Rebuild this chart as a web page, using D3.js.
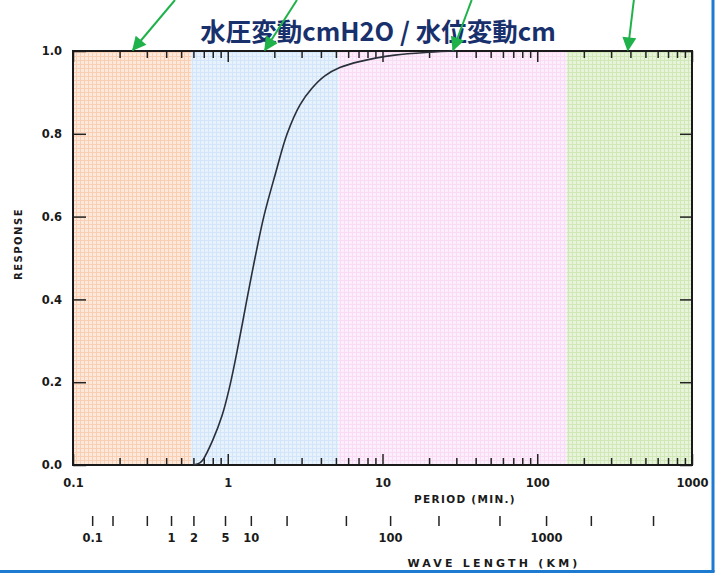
<!DOCTYPE html>
<html>
<head>
<meta charset="utf-8">
<script src="https://cdn.jsdelivr.net/npm/d3@7"></script>
<style>
  body { margin: 0; background: #fff; }
  text { font-family: "DejaVu Sans", sans-serif; font-weight: bold; fill: #1a1a1a; }
</style>
</head>
<body>
<svg id="chart" width="720" height="573"></svg>
<script>
// response curve (period in minutes)
const periods   = [0.6, 0.66, 0.69, 0.8, 0.92, 1.03, 1.17, 1.33, 1.50, 1.71, 2.02, 2.42, 2.93, 3.5, 4.24, 5.3, 7.2, 12, 20, 30];
const responses = [0, 0.005, 0.012, 0.06, 0.12, 0.19, 0.29, 0.40, 0.50, 0.60, 0.70, 0.80, 0.87, 0.91, 0.94, 0.96, 0.975, 0.99, 0.997, 1.0];

// shaded period bands
const bandStart = [0.1, 0.58, 5.2, 155];
const bandEnd   = [0.58, 5.2, 155, 1000];
const bandNames = ["orange", "blue", "pink", "green"];

// period axis
const periodMajor = [0.1, 1, 10, 100, 1000];
const periodLabels = ["0.1", "1", "10", "100", "1000"];
const yTicks = [0, 0.2, 0.4, 0.6, 0.8, 1.0];

// wave length axis: km label and the period it sits at
const waveKm     = ["0.1", "", "", "1", "2", "5", "10", "", "", "100", "", "", "1000", "", ""];
const wavePeriod = [0.133, 0.18, 0.30, 0.43, 0.60, 0.96, 1.41, 2.4, 5.8, 11.2, 23, 57, 114, 222, 560];

// green annotation arrows (tip period, tail period)
const arrowTip  = [0.244, 1.74, 28.6, 385];
const arrowTail = [0.456, 2.8, 37.7, 421];

const title = "水圧変動cmH2O / 水位変動cm";

const svg = d3.select("#chart");
const plotL = 73, plotR = 692, plotT = 51, plotB = 465;

const x = d3.scaleLog().domain([0.1, 1000]).range([plotL, plotR]);
const y = d3.scaleLinear().domain([0, 1]).range([plotB, plotT]);

// patterns for the dotted fills
const patColors = {
  orange: ["#fde9dc", "#f9ceb2"],
  blue:   ["#e8f2fc", "#d3e5f8"],
  pink:   ["#fdeefc", "#f9dbf5"],
  green:  ["#e7f3da", "#cfe8b5"]
};
const defs = svg.append("defs");
Object.keys(patColors).forEach(k => {
  const p = defs.append("pattern").attr("id", "pat-" + k)
    .attr("patternUnits", "userSpaceOnUse").attr("width", 4).attr("height", 4);
  p.append("rect").attr("width", 4).attr("height", 4).attr("fill", patColors[k][0]);
  p.append("rect").attr("x", 0).attr("y", 0).attr("width", 4).attr("height", 1).attr("fill", patColors[k][1]);
  p.append("rect").attr("x", 0).attr("y", 0).attr("width", 1).attr("height", 4).attr("fill", patColors[k][1]);
});
const mk = defs.append("marker").attr("id", "arrowhead")
  .attr("viewBox", "0 0 10 10").attr("refX", 9).attr("refY", 5)
  .attr("markerWidth", 8).attr("markerHeight", 7).attr("markerUnits", "strokeWidth")
  .attr("orient", "auto");
mk.append("path").attr("d", "M0,0 L10,5 L0,10 z").attr("fill", "#1fb24a");

// bands
svg.append("g").selectAll("rect")
  .data(bandStart)
  .enter().append("rect")
    .attr("x", (d, i) => x(d))
    .attr("y", plotT)
    .attr("width", (d, i) => x(bandEnd[i]) - x(d))
    .attr("height", plotB - plotT)
    .attr("fill", (d, i) => "url(#pat-" + bandNames[i] + ")");

// minor period ticks (bottom pointing up, top pointing down)
const minorTicks = [];
periodMajor.slice(0, 4).forEach(m => { for (let k = 2; k <= 9; k++) minorTicks.push(m * k); });

svg.append("g").attr("transform", `translate(0,${plotB})`)
  .call(d3.axisBottom(x).tickValues(minorTicks).tickSize(-7).tickFormat(""))
  .call(g => g.select(".domain").remove());
svg.append("g").attr("transform", `translate(0,${plotT})`)
  .call(d3.axisTop(x).tickValues(minorTicks).tickSize(-7).tickFormat(""))
  .call(g => g.select(".domain").remove());

svg.append("g").attr("class", "xmaj").attr("transform", `translate(0,${plotB})`)
  .call(d3.axisBottom(x).tickValues(periodMajor).tickSize(-11).tickPadding(14)
    .tickFormat((d, i) => periodLabels[i]))
  .call(g => g.select(".domain").remove());
svg.append("g").attr("transform", `translate(0,${plotT})`)
  .call(d3.axisTop(x).tickValues(periodMajor).tickSize(-11).tickFormat(""))
  .call(g => g.select(".domain").remove());

// y ticks, left and right, pointing inward
svg.append("g").attr("class", "yax").attr("transform", `translate(${plotL},0)`)
  .call(d3.axisLeft(y).tickValues(yTicks).tickSize(-13).tickPadding(11).tickFormat(d3.format(".1f")))
  .call(g => g.select(".domain").remove());
svg.append("g").attr("transform", `translate(${plotR},0)`)
  .call(d3.axisRight(y).tickValues(yTicks).tickSize(-12).tickFormat(""))
  .call(g => g.select(".domain").remove());

svg.selectAll(".tick line").attr("stroke", "#222").attr("stroke-width", 1.5);
svg.selectAll(".xmaj text, .yax text").style("font-size", "11.5px").attr("fill", "#1a1a1a");

// frame
svg.append("rect")
  .attr("x", plotL).attr("y", plotT)
  .attr("width", plotR - plotL).attr("height", plotB - plotT)
  .attr("fill", "none").attr("stroke", "#1a1a1a").attr("stroke-width", 2);

// response curve
svg.append("path")
  .datum(periods)
  .attr("d", d3.line().x(d => x(d)).y((d, i) => y(responses[i])).curve(d3.curveCatmullRom))
  .attr("fill", "none").attr("stroke", "#2a2f3a").attr("stroke-width", 1.6);

// axis titles
svg.append("text").attr("x", 465).attr("y", 503).attr("text-anchor", "middle")
  .style("font-size", "10.5px").style("letter-spacing", "1.3px").text("PERIOD (MIN.)");
svg.append("text").attr("transform", "translate(22,244) rotate(-90)").attr("text-anchor", "middle")
  .style("font-size", "10px").style("letter-spacing", "1.5px").text("RESPONSE");

// wave length axis
svg.append("g").attr("class", "wave").attr("transform", "translate(0,516)")
  .call(d3.axisBottom(x).tickValues(wavePeriod).tickSize(10).tickPadding(8)
    .tickFormat((d, i) => waveKm[i]))
  .call(g => g.select(".domain").remove())
  .call(g => g.selectAll("line").attr("stroke", "#222").attr("stroke-width", 1.5))
  .call(g => g.selectAll("text").style("font-size", "11.5px").attr("fill", "#1a1a1a"));
svg.append("text").attr("x", 494).attr("y", 567).attr("text-anchor", "middle")
  .style("font-size", "11px").style("letter-spacing", "3.2px").text("WAVE LENGTH (KM)");

// title
svg.append("text").attr("x", 378).attr("y", 41).attr("text-anchor", "middle")
  .style("font-family", "'Noto Sans CJK JP', sans-serif").style("font-weight", "bold")
  .style("font-size", "25.5px").style("fill", "#18306c")
  .text(title);

// arrows
svg.append("g").selectAll("line")
  .data(arrowTip)
  .enter().append("line")
    .attr("x1", (d, i) => x(arrowTail[i])).attr("y1", 0)
    .attr("x2", d => x(d)).attr("y2", y(1) - 1)
    .attr("stroke", "#1fb24a").attr("stroke-width", 2)
    .attr("marker-end", "url(#arrowhead)");

// blue page border on right and bottom
svg.append("line").attr("x1", 713).attr("y1", 0).attr("x2", 713).attr("y2", 572)
  .attr("stroke", "#1c7bd0").attr("stroke-width", 3);
svg.append("line").attr("x1", 0).attr("y1", 571.5).attr("x2", 714.5).attr("y2", 571.5)
  .attr("stroke", "#1c7bd0").attr("stroke-width", 3);
</script>
</body>
</html>
